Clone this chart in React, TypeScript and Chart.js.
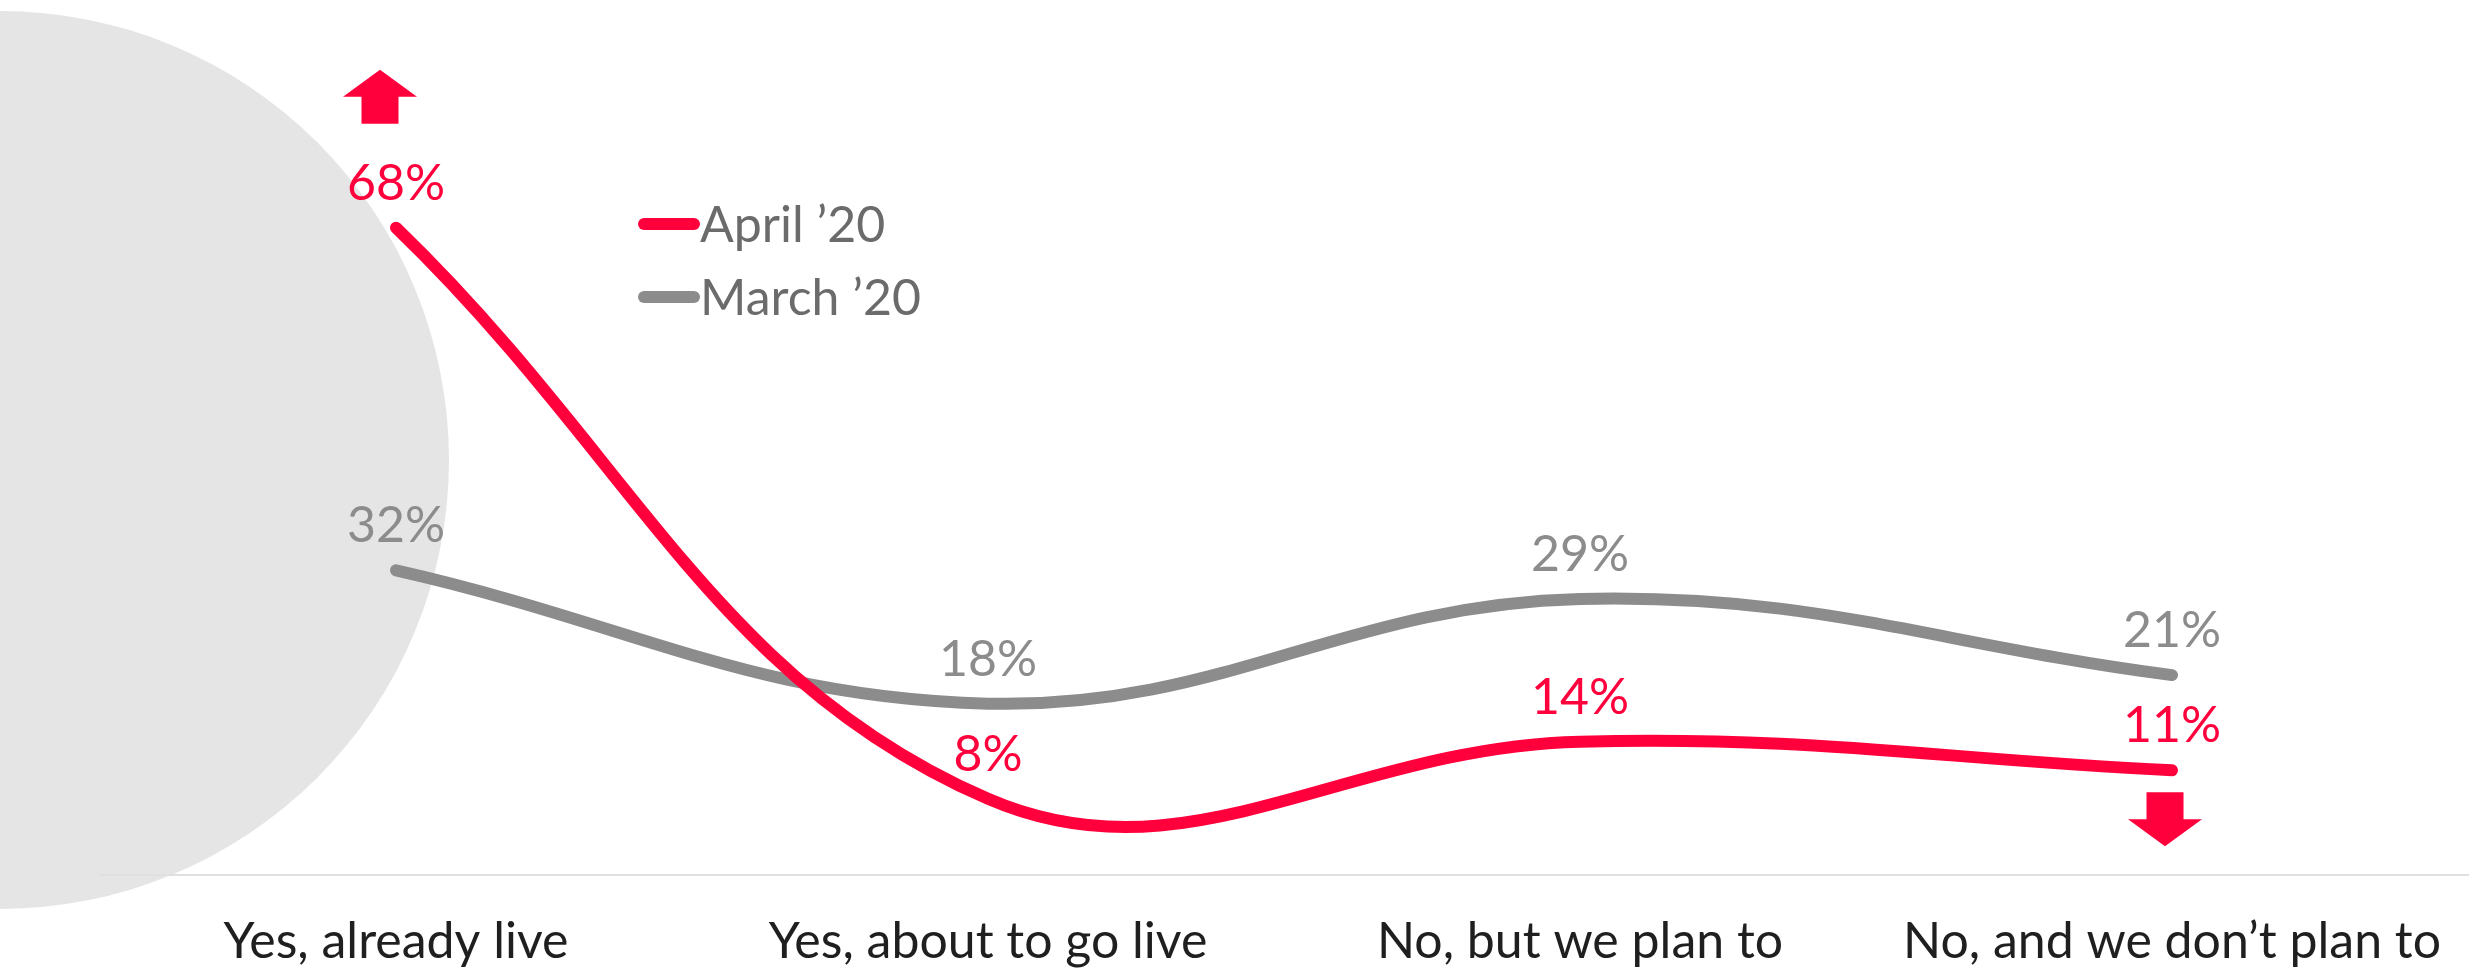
import React, { useEffect, useRef } from "react";
import { Chart, registerables } from "chart.js";

Chart.register(...registerables);

const categories = ["Yes, already live", "Yes, about to go live", "No, but we plan to", "No, and we don\u2019t plan to"];
const aprilValues = [68, 8, 14, 11];
const marchValues = [32, 18, 29, 21];
const seriesLabels = ["April \u201920", "March \u201920"];

const RED = "#ff003c";
const GRAY = "#8c8c8c";
const FONT = "Lato";

const decorPlugin = {
  id: "decor",
  beforeDraw(chart: any) {
    const ctx = chart.ctx;
    ctx.save();
    ctx.fillStyle = "#e5e5e5";
    ctx.beginPath();
    ctx.arc(0, 460, 449, 0, Math.PI * 2);
    ctx.fill();
    ctx.restore();
  },
  afterDatasetsDraw(chart: any) {
    const ctx = chart.ctx;
    ctx.save();
    // value labels
    chart.data.datasets.forEach((ds: any, di: number) => {
      const meta = chart.getDatasetMeta(di);
      ctx.fillStyle = ds.borderColor;
      ctx.font = `50px ${FONT}`;
      ctx.textAlign = "center";
      ctx.textBaseline = "middle";
      meta.data.forEach((pt: any, i: number) => {
        ctx.fillText(`${ds.data[i]}%`, pt.x, pt.y - 44);
      });
    });
    // legend
    chart.data.datasets.forEach((ds: any, di: number) => {
      const y = 224 + di * 73;
      ctx.strokeStyle = ds.borderColor;
      ctx.lineWidth = 12;
      ctx.lineCap = "round";
      ctx.beginPath();
      ctx.moveTo(644, y);
      ctx.lineTo(694, y);
      ctx.stroke();
      ctx.fillStyle = "#6b6b6b";
      ctx.font = `50px ${FONT}`;
      ctx.textAlign = "left";
      ctx.textBaseline = "middle";
      ctx.fillText(ds.label, 700, y + 2);
    });
    // arrows
    const aMeta = chart.getDatasetMeta(0);
    const first = aMeta.data[0];
    const last = aMeta.data[aMeta.data.length - 1];
    ctx.fillStyle = RED;
    {
      const cx = first.x - 16;
      const top = first.y - 158;
      ctx.beginPath();
      ctx.moveTo(cx, top);
      ctx.lineTo(cx + 37, top + 27);
      ctx.lineTo(cx + 18.5, top + 27);
      ctx.lineTo(cx + 18.5, top + 54);
      ctx.lineTo(cx - 18.5, top + 54);
      ctx.lineTo(cx - 18.5, top + 27);
      ctx.lineTo(cx - 37, top + 27);
      ctx.closePath();
      ctx.fill();
    }
    {
      const cx = last.x - 7;
      const top = last.y + 22;
      ctx.beginPath();
      ctx.moveTo(cx - 18.5, top);
      ctx.lineTo(cx + 18.5, top);
      ctx.lineTo(cx + 18.5, top + 27);
      ctx.lineTo(cx + 37, top + 27);
      ctx.lineTo(cx, top + 54);
      ctx.lineTo(cx - 37, top + 27);
      ctx.lineTo(cx - 18.5, top + 27);
      ctx.closePath();
      ctx.fill();
    }
    ctx.restore();
  },
};

export default function App() {
  const ref = useRef<HTMLCanvasElement>(null);
  useEffect(() => {
    document.body.style.margin = "0";
    const chart = new Chart(ref.current!, {
      type: "line",
      data: {
        labels: categories,
        datasets: [
          {
            label: seriesLabels[0],
            data: aprilValues,
            borderColor: RED,
            backgroundColor: RED,
            borderWidth: 12,
            tension: 0.4,
            pointRadius: 0,
            borderCapStyle: "round",
            clip: false as any,
          },
          {
            label: seriesLabels[1],
            data: marchValues,
            borderColor: GRAY,
            backgroundColor: GRAY,
            borderWidth: 12,
            tension: 0.4,
            pointRadius: 0,
            borderCapStyle: "round",
            clip: false as any,
          },
        ],
      },
      options: {
        responsive: false,
        animation: false,
        layout: { padding: { left: 100, right: 16, top: 113.4, bottom: 0 } },
        elements: { line: { capBezierPoints: false } },
        plugins: { legend: { display: false }, tooltip: { enabled: false } },
        scales: {
          x: {
            offset: true,
            grid: { display: false, drawTicks: false },
            border: { display: true, color: "#e0e0e0", width: 2 },
            ticks: {
              color: "#1f1f1f",
              font: { family: FONT, size: 50, lineHeight: 1 },
              padding: 42,
              maxRotation: 0,
              autoSkip: false,
            },
            afterFit: (scale: any) => {
              scale.height = 94;
            },
          },
          y: { display: false, min: 0, max: 80 },
        },
      },
      plugins: [decorPlugin],
    });
    return () => chart.destroy();
  }, []);
  return <canvas ref={ref} width={2485} height={969} style={{ display: "block" }} />;
}
